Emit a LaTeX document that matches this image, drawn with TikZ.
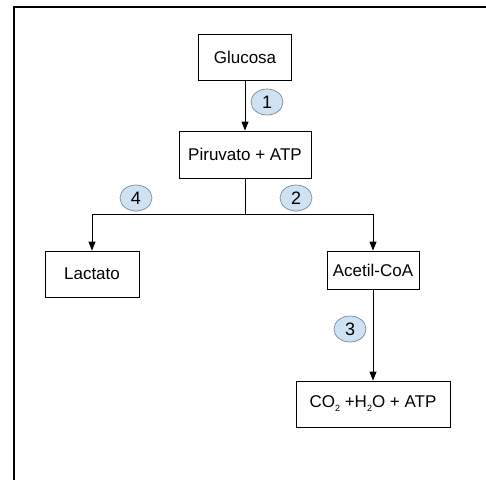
\documentclass[tikz,border=0pt]{standalone}
\usepackage{fontspec}
\setmainfont{Liberation Sans}
\usetikzlibrary{arrows.meta,shapes.geometric}
\definecolor{stepfill}{HTML}{CFE2F3}
\definecolor{stepline}{HTML}{7A8794}
\newcommand{\subtwo}{\raisebox{-4pt}{\fontsize{9}{9}\selectfont 2}}
\begin{document}
\begin{tikzpicture}[x=1pt,y=-1pt,
  box/.style={draw=black,line width=0.8pt,rectangle,inner sep=0pt,font=\fontsize{17}{20}\selectfont},
  stepmark/.style={draw=stepline,fill=stepfill,ellipse,line width=0.7pt,minimum width=32pt,minimum height=26pt,inner sep=0pt,font=\fontsize{18}{20}\selectfont},
  conn/.style={line width=0.8pt,-{Triangle[length=9pt,width=7pt]}},
  plain/.style={line width=0.8pt}]
\useasboundingbox (0,0) rectangle (486,479);
\draw[line width=2pt] (14,480) -- (14,7) -- (487,7);
\node[box,minimum width=93pt,minimum height=46pt] (glu) at (245,57) {Glucosa};
\node[box,minimum width=132pt,minimum height=47pt] (pir) at (245,154.5) {Piruvato + ATP};
\node[box,minimum width=94pt,minimum height=46pt] (lac) at (92,274) {Lactato};
\node[box,minimum width=92pt,minimum height=38pt] (ace) at (373,270) {Acetil-CoA};
\node[box,minimum width=154pt,minimum height=46pt] (co2) at (373,404) {CO\subtwo{} +H\subtwo O + ATP};
\coordinate (j) at (245,214);
\draw[conn] (glu.south) -- (pir.north);
\draw[plain] (pir.south) -- (j);
\draw[conn] (j) -| (lac.north);
\draw[conn] (j) -| (ace.north);
\draw[conn] (ace.south) -- (co2.north);
\node[stepmark] (s1) at (267,102) {1};
\node[stepmark] (s4) at (136,198) {4};
\node[stepmark] (s2) at (296,198) {2};
\node[stepmark] (s3) at (350,329) {3};
\end{tikzpicture}
\end{document}
